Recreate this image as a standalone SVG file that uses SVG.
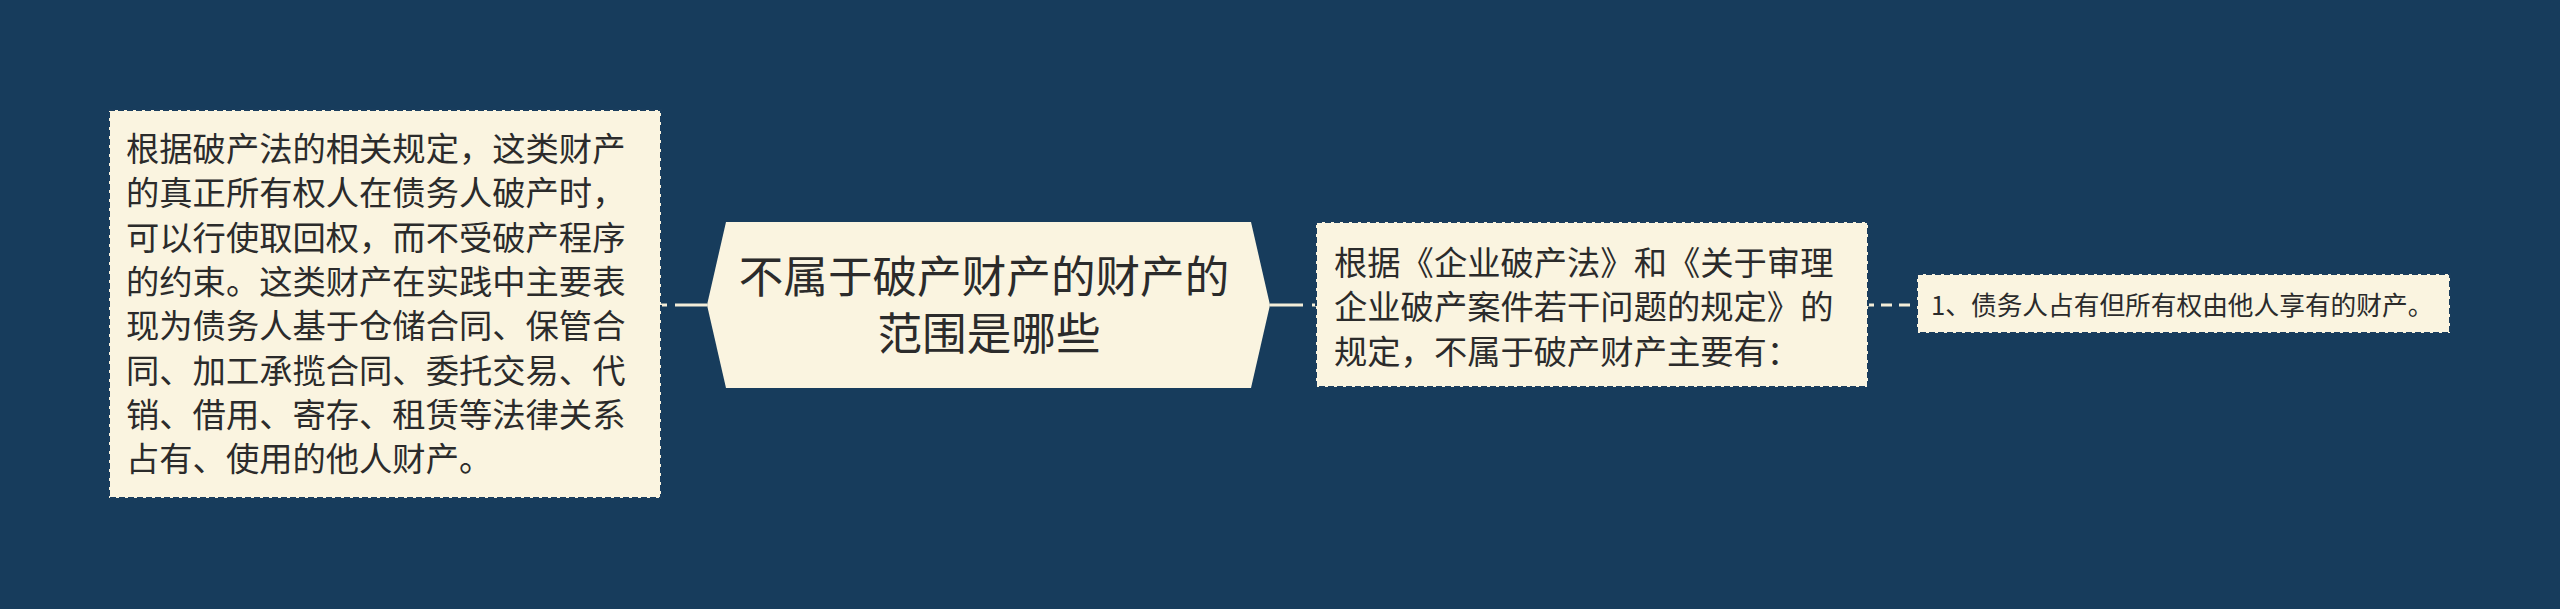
<svg xmlns="http://www.w3.org/2000/svg" width="2560" height="609" viewBox="0 0 2560 609">
<style>
.t{font-family:"Noto Sans CJK SC","Noto Sans",sans-serif;fill:#2b2b2b;}
.box{fill:#faf4e0;stroke:#1a3d5d;stroke-width:2;stroke-dasharray:6 3;}
.conn{stroke:#f3edd8;stroke-width:3;fill:none;}
</style>
<rect width="2560" height="609" fill="#173c5c"/>
<g id="connectors">
<line class="conn" x1="661" y1="305" x2="667" y2="305"/>
<line class="conn" x1="675" y1="305" x2="707" y2="305"/>
<line class="conn" x1="1270" y1="305" x2="1303" y2="305"/>
<line class="conn" x1="1312" y1="305" x2="1316" y2="305"/>
<line class="conn" x1="1868" y1="305" x2="1917" y2="305" stroke-dasharray="6 7 11 7 11 7"/>
</g>
<g id="node-left">
<rect class="box" x="109" y="110" width="552" height="388"/>
<text class="t" font-size="33.3">
<tspan x="126" y="161">根据破产法的相关规定，这类财产</tspan>
<tspan x="126" y="205.3">的真正所有权人在债务人破产时，</tspan>
<tspan x="126" y="249.6">可以行使取回权，而不受破产程序</tspan>
<tspan x="126" y="293.9">的约束。这类财产在实践中主要表</tspan>
<tspan x="126" y="338.2">现为债务人基于仓储合同、保管合</tspan>
<tspan x="126" y="382.5">同、加工承揽合同、委托交易、代</tspan>
<tspan x="126" y="426.8">销、借用、寄存、租赁等法律关系</tspan>
<tspan x="126" y="471.1">占有、使用的他人财产。</tspan>
</text>
</g>
<g id="node-center">
<polygon points="726,222 1251,222 1270,305 1251,388 726,388 707,305" fill="#faf4e0"/>
<text class="t" font-size="44.6" text-anchor="middle">
<tspan x="989" y="293">不属于破产财产的财产的</tspan>
<tspan x="989" y="350">范围是哪些</tspan>
</text>
</g>
<g id="node-right">
<rect class="box" x="1316" y="222" width="552" height="165"/>
<text class="t" font-size="33.3">
<tspan x="1334" y="274.5">根据《企业破产法》和《关于审理</tspan>
<tspan x="1334" y="319">企业破产案件若干问题的规定》的</tspan>
<tspan x="1334" y="363.5">规定，不属于破产财产主要有：</tspan>
</text>
</g>
<g id="node-far">
<rect class="box" x="1917" y="274" width="533" height="59" fill="#fdfbf3"/>
<text class="t" font-size="25.7" x="1931" y="314.5">1、债务人占有但所有权由他人享有的财产。</text>
</g>
</svg>
